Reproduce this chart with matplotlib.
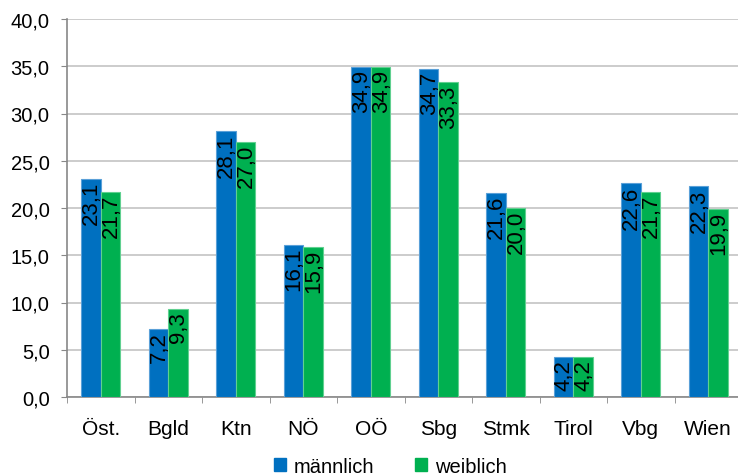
import matplotlib
matplotlib.use('Agg')
import matplotlib.pyplot as plt
import numpy as np
from matplotlib.patches import Patch

plt.rcParams['font.family'] = ['Liberation Sans', 'DejaVu Sans']

categories = ['Öst.', 'Bgld', 'Ktn', 'NÖ', 'OÖ', 'Sbg', 'Stmk', 'Tirol', 'Vbg', 'Wien']
maennlich = [23.1, 7.2, 28.1, 16.1, 34.9, 34.7, 21.6, 4.2, 22.6, 22.3]
weiblich = [21.7, 9.3, 27.0, 15.9, 34.9, 33.3, 20.0, 4.2, 21.7, 19.9]
series_names = ['männlich', 'weiblich']

blue = '#0070c0'
green = '#00b050'

fig = plt.figure(figsize=(7.38, 4.77), dpi=100)
ax = fig.add_axes([67 / 738, 79 / 477, 675 / 738, 378 / 477])

x = np.arange(len(categories))
w = 0.29
bars_m = ax.bar(x - w / 2, maennlich, width=w, color=blue, edgecolor='#5aa0d8', linewidth=0.8, zorder=3)
bars_w = ax.bar(x + w / 2, weiblich, width=w, color=green, edgecolor='#60d090', linewidth=0.8, zorder=3)

for bars in (bars_m, bars_w):
    for b in bars:
        v = b.get_height()
        ax.annotate(f'{v:.1f}'.replace('.', ','),
                    (b.get_x() + b.get_width() / 2, v),
                    xytext=(0.5, -1.5), textcoords='offset points',
                    rotation=90, ha='center', va='top', fontsize=16, zorder=4)

ax.set_xlim(-0.5, len(categories) - 0.5)
ax.set_ylim(0, 40)
ax.set_yticks(np.arange(0, 40.1, 5))
ax.set_yticklabels([f'{t:.1f}'.replace('.', ',') for t in np.arange(0, 40.1, 5)], fontsize=14.5)
ax.set_xticks(x)
ax.set_xticklabels(categories, fontsize=15)
ax.set_xticks(np.arange(-0.5, len(categories), 1), minor=True)
ax.tick_params(axis='x', which='major', length=0, pad=16)
ax.tick_params(axis='x', which='minor', length=4, color='#888888', direction='out')
ax.tick_params(axis='y', length=4.5, color='#888888', pad=8)

ax.grid(axis='y', color='#c4c4c4', linewidth=1.2, zorder=0)
ax.set_axisbelow(True)
for s in ['top', 'right']:
    ax.spines[s].set_visible(False)
for s in ['left', 'bottom']:
    ax.spines[s].set_color('#888888')
    ax.spines[s].set_linewidth(1.2)

handles = [Patch(color=blue), Patch(color=green)]
fig.legend(handles, series_names, loc='center', bbox_to_anchor=(0.529, 0.02),
           ncol=2, frameon=False, fontsize=14.5, handlelength=0.6, handleheight=0.6,
           handletextpad=0.4, columnspacing=2.0)

fig.savefig('out.png', dpi=100)
